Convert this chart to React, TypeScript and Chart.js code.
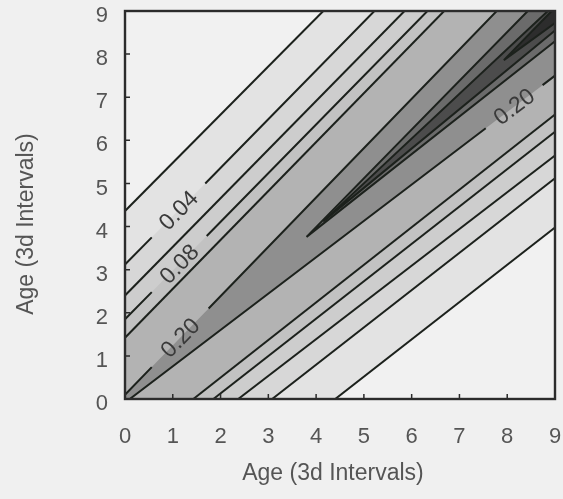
import React, { useEffect, useRef } from 'react';
import { Chart, registerables } from 'chart.js';

Chart.register(...registerables);

type XY = [number, number] | null;

// Axis ticks (both axes share the same 0..9 range)
const axisTicks = [0, 1, 2, 3, 4, 5, 6, 7, 8, 9];
const xTitle = 'Age (3d Intervals)';
const yTitle = 'Age (3d Intervals)';

// Contours above the diagonal, left edge -> top edge (null marks a label gap)
const upper002: XY[] = [[0, 4.36], [4.15, 9]];
const upper004: XY[] = [[0, 3.12], [0.56, 3.75], null, [1.68, 5.0], [5.22, 9]];
const upper006: XY[] = [[0, 2.4], [5.85, 9]];
const upper008: XY[] = [[0, 1.85], [0.56, 2.48], null, [1.71, 3.78], [6.33, 9]];
const upper010: XY[] = [[0, 1.42], [6.68, 9]];
const upper020: XY[] = [[0, 0.1], [0.56, 0.74], null, [1.75, 2.1], [7.78, 9]];

// Contours below the diagonal, bottom edge -> right edge
const lower002: XY[] = [[4.4, 0], [9, 3.98]];
const lower004: XY[] = [[3.08, 0], [9, 5.12]];
const lower006: XY[] = [[2.37, 0], [9, 5.65]];
const lower008: XY[] = [[1.85, 0], [9, 6.2]];
const lower010: XY[] = [[1.43, 0], [9, 6.6]];
const lower020: XY[] = [[0.1, 0], [7.55, 6.28], null, [8.74, 7.28], [9, 7.5]];

// Closed ridge contours: top-edge end, tip, right-edge end
const wedge025: XY[] = [[8.43, 9], [3.8, 3.76], [9, 8.3]];
const wedge030: XY[] = [[8.85, 9], [4.15, 4.12], [9, 8.55]];
const wedge035: XY[] = [[8.93, 9], [7.93, 7.86], [9, 8.72]];

// Inline contour labels
const labelTexts = ['0.04', '0.08', '0.20', '0.20'];
const labelLines = [upper004, upper008, upper020, lower020];

// ---- styling ----
const FONT = '"Liberation Sans", Arial, Helvetica, sans-serif';
const TEXT_COLOR = '#555555';
const LINE_COLOR = '#1c211c';
const OUTER_FILL = '#f1f1f1';
const BAND_COLORS = ['#e3e3e3', '#d7d7d7', '#cdcdcd', '#c2c2c2', '#b3b3b3', '#8f8f8f'];
const WEDGE_COLORS = ['#6b6b6b', '#4c4c4c', '#2d2d2d'];

const xMin = axisTicks[0];
const xMax = axisTicks[axisTicks.length - 1];

const toPoints = (arr: XY[]) =>
  arr.map((p) => (p ? { x: p[0], y: p[1] } : { x: null as any, y: null as any }));

const solid = (arr: XY[]) => arr.filter((p): p is [number, number] => p !== null);

const bandPolygon = (up: XY[], low: XY[]) =>
  toPoints([[xMin, xMin], ...solid(up), [xMax, xMax], ...solid(low).reverse()]);

const wedgePolygon = (w: XY[]) => toPoints([...solid(w), [xMax, xMax]]);

const bands = [
  [upper002, lower002],
  [upper004, lower004],
  [upper006, lower006],
  [upper008, lower008],
  [upper010, lower010],
  [upper020, lower020],
];
const wedges = [wedge025, wedge030, wedge035];
const contourLines = [
  upper002, upper004, upper006, upper008, upper010, upper020,
  lower002, lower004, lower006, lower008, lower010, lower020,
  wedge025, wedge030, wedge035,
];

export default function App() {
  const ref = useRef<HTMLCanvasElement>(null);

  useEffect(() => {
    document.body.style.margin = '0';
    document.body.style.background = '#f0f0f0';

    const fillSets: any[] = [];
    bands.forEach(([u, l], i) => {
      fillSets.push({
        data: bandPolygon(u, l),
        showLine: true,
        borderWidth: 0,
        pointRadius: 0,
        fill: 'shape',
        backgroundColor: BAND_COLORS[i],
        order: 100 - i,
      });
    });
    wedges.forEach((w, i) => {
      fillSets.push({
        data: wedgePolygon(w),
        showLine: true,
        borderWidth: 0,
        pointRadius: 0,
        fill: 'shape',
        backgroundColor: WEDGE_COLORS[i],
        order: 50 - i,
      });
    });
    const lineSets = contourLines.map((c) => ({
      data: toPoints(c),
      showLine: true,
      spanGaps: false,
      borderColor: LINE_COLOR,
      borderWidth: 2,
      pointRadius: 0,
      fill: false,
      order: 0,
    }));

    const background = {
      id: 'plotBackground',
      beforeDatasetsDraw(chart: any) {
        const { ctx, chartArea: a } = chart;
        ctx.save();
        ctx.fillStyle = OUTER_FILL;
        ctx.fillRect(a.left, a.top, a.right - a.left, a.bottom - a.top);
        ctx.restore();
      },
    };

    const contourLabels = {
      id: 'contourLabels',
      afterDatasetsDraw(chart: any) {
        const { ctx } = chart;
        const xs = chart.scales.x;
        const ys = chart.scales.y;
        ctx.save();
        ctx.font = `23px ${FONT}`;
        ctx.fillStyle = '#3a3a3a';
        ctx.textAlign = 'center';
        ctx.textBaseline = 'middle';
        labelLines.forEach((line, i) => {
          const g = line.indexOf(null);
          const a = line[g - 1] as [number, number];
          const b = line[g + 1] as [number, number];
          const ax = xs.getPixelForValue(a[0]);
          const ay = ys.getPixelForValue(a[1]);
          const bx = xs.getPixelForValue(b[0]);
          const by = ys.getPixelForValue(b[1]);
          ctx.save();
          ctx.translate((ax + bx) / 2, (ay + by) / 2);
          ctx.rotate(Math.atan2(by - ay, bx - ax));
          ctx.fillText(labelTexts[i], 0, 1);
          ctx.restore();
        });
        ctx.restore();
      },
    };

    const frame = {
      id: 'frame',
      afterDraw(chart: any) {
        const { ctx, chartArea: a } = chart;
        const xs = chart.scales.x;
        const ys = chart.scales.y;
        ctx.save();
        ctx.strokeStyle = '#2c2c2c';
        ctx.lineWidth = 1.5;
        ctx.beginPath();
        axisTicks.forEach((t) => {
          const px = xs.getPixelForValue(t);
          ctx.moveTo(px, a.bottom);
          ctx.lineTo(px, a.bottom - 5);
          const py = ys.getPixelForValue(t);
          ctx.moveTo(a.left, py);
          ctx.lineTo(a.left + 5, py);
        });
        ctx.stroke();
        ctx.lineWidth = 2.4;
        ctx.strokeRect(a.left, a.top, a.right - a.left, a.bottom - a.top);

        ctx.fillStyle = TEXT_COLOR;
        ctx.font = `23px ${FONT}`;
        ctx.textAlign = 'center';
        ctx.textBaseline = 'middle';
        ctx.fillText(xTitle, 333, 474);
        ctx.translate(27, 224);
        ctx.rotate(-Math.PI / 2);
        ctx.fillText(yTitle, 0, 0);
        ctx.restore();
      },
    };

    const axisCommon = {
      type: 'linear' as const,
      min: xMin,
      max: xMax,
      grid: { display: false, drawTicks: false },
      border: { display: false },
    };

    const chart = new Chart(ref.current!, {
      type: 'scatter',
      data: { datasets: [...fillSets, ...lineSets] },
      options: {
        animation: false,
        responsive: false,
        events: [],
        layout: { autoPadding: false, padding: { top: 11, right: 8, left: 0, bottom: 0 } },
        plugins: { legend: { display: false }, tooltip: { enabled: false } },
        scales: {
          x: {
            ...axisCommon,
            afterFit: (s: any) => {
              s.height = 100;
              s.paddingLeft = 0;
              s.paddingRight = 0;
            },
            afterBuildTicks: (s: any) => { s.ticks = axisTicks.map((v) => ({ value: v })); },
            ticks: { color: TEXT_COLOR, font: { family: FONT, size: 22 }, padding: 25, maxRotation: 0, autoSkip: false },
          },
          y: {
            ...axisCommon,
            afterFit: (s: any) => {
              s.width = 125;
              s.paddingTop = 0;
              s.paddingBottom = 0;
            },
            afterBuildTicks: (s: any) => { s.ticks = axisTicks.map((v) => ({ value: v })); },
            ticks: { color: TEXT_COLOR, font: { family: FONT, size: 22 }, padding: 17, labelOffset: 5, autoSkip: false },
          },
        },
      },
      plugins: [background, contourLabels, frame],
    });
    return () => chart.destroy();
  }, []);

  return (
    <div style={{ width: 563, height: 499, background: '#f0f0f0' }}>
      <canvas ref={ref} width={563} height={499} style={{ display: 'block' }} />
    </div>
  );
}
